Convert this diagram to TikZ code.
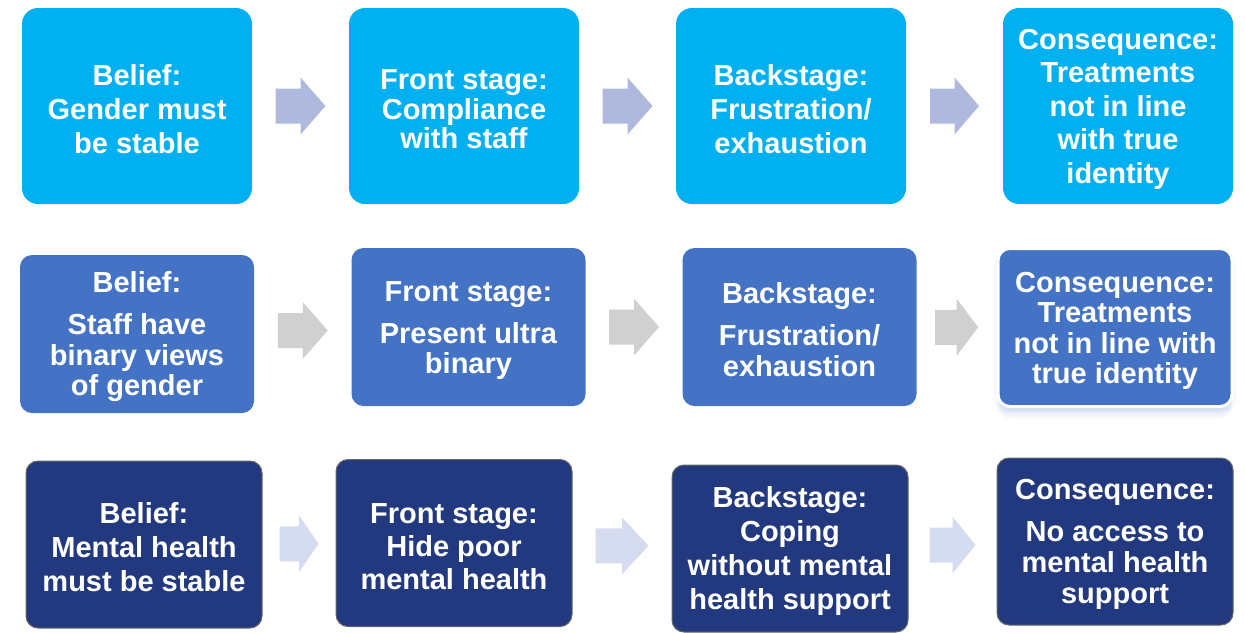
\documentclass[tikz,border=0pt]{standalone}
\usepackage{fontspec}
\setmainfont{Liberation Sans}
\usepackage{tikz}
\usetikzlibrary{calc,shadows}

\definecolor{cyanbox}{HTML}{00B0F0}
\definecolor{midbox}{HTML}{4472C4}
\definecolor{navybox}{HTML}{22397F}
\definecolor{cyanarrow}{HTML}{AFB9DD}
\definecolor{greyarrow}{HTML}{D0D0D0}
\definecolor{navyarrow}{HTML}{D6DCEF}

% taller first line, so the text sits a little lower in its box
\newcommand{\topstrut}{\rule{0pt}{13.3pt}}

% block arrow halfway between two boxes: style, from, to, length
\newcommand{\stagearrow}[4]{%
  \fill[#1] ($(#2.east)!.5!(#3.west)$) ++(-#4/2,-17.5) -- ++(#4/2,0) -- ++(0,-11)
    -- ++(#4/2,28.5) -- ++(-#4/2,28.5) -- ++(0,-11) -- ++(-#4/2,0) -- cycle;}

\begin{document}
\begin{tikzpicture}[x=0.5pt,y=-0.5pt]
\tikzstyle{stage}=[rectangle, text=white, align=center, inner sep=0pt, font=\bfseries\fontsize{14.5}{17}\selectfont]
\tikzstyle{toprow}=[stage, fill=cyanbox, rounded corners=8pt, minimum width=115pt, minimum height=98pt]
\tikzstyle{midrow}=[stage, fill=midbox, rounded corners=6pt, minimum width=117pt, minimum height=79pt, font=\bfseries\fontsize{14.5}{15.25}\selectfont]
\tikzstyle{lowrow}=[stage, fill=navybox, draw=black!60, line width=0.5pt, rounded corners=6pt, minimum width=118pt, minimum height=83.5pt]
\tikzstyle{haze}=[fill=midbox!55, opacity=.09]
\tikzstyle{glow}=[draw=white, line width=1.5pt,
  drop shadow={shadow xshift=0pt, shadow yshift=-1.5pt, haze},
  drop shadow={shadow xshift=0pt, shadow yshift=-3pt, haze},
  drop shadow={shadow xshift=0pt, shadow yshift=-4.5pt, haze},
  drop shadow={shadow xshift=0pt, shadow yshift=-6pt, haze},
  drop shadow={shadow xshift=-2pt, shadow yshift=-2.5pt, haze},
  drop shadow={shadow xshift=2pt, shadow yshift=-2.5pt, haze}]
\tikzstyle{toparrow}=[fill=cyanarrow]
\tikzstyle{midarrow}=[fill=greyarrow]
\tikzstyle{lowarrow}=[fill=navyarrow]
\useasboundingbox (0,0) rectangle (1245,632);

	% gender stability
	\node[toprow] (b11) at (137,106) {\topstrut Belief:\\Gender must\\be stable};
	\node[toprow] (b12) at (464,106) {\topstrut Front stage:\\[-2.25pt]Compliance\\[-2.25pt]with staff};
	\node[toprow] (b13) at (791,106) {\topstrut Backstage:\\Frustration/\\exhaustion};
	\node[toprow] (b14) at (1118,106) {\topstrut Consequence:\\[-0.3pt]Treatments\\[-0.3pt]not in line\\[-0.3pt]with true\\[-0.3pt]identity};

	% binary views of staff
	\node[midrow] (b21) at (137,334) {\topstrut Belief:\\[5.75pt]Staff have\\binary views\\of gender};
	\node[midrow] (b22) at (468.5,327) {\topstrut Front stage:\\[5.75pt]Present ultra\\binary};
	\node[midrow] (b23) at (799.5,327) {\topstrut Backstage:\\[5.75pt]Frustration/\\exhaustion};
	\node[midrow,glow] (b24) at (1115,327.5) {\topstrut Consequence:\\Treatments\\not in line with\\true identity};

	% mental health
	\node[lowrow] (b31) at (144,544.5) {\topstrut Belief:\\Mental health\\must be stable};
	\node[lowrow] (b32) at (454,543) {\topstrut Front stage:\\[-0.5pt]Hide poor\\[-0.5pt]mental health};
	\node[lowrow] (b33) at (790,548.5) {\topstrut Backstage:\\Coping\\without mental\\health support};
	\node[lowrow] (b34) at (1115,541.5) {\topstrut Consequence:\\[4pt]No access to\\[-1.5pt]mental health\\[-1.5pt]support};

	\stagearrow{toparrow}{b11}{b12}{50}
	\stagearrow{toparrow}{b12}{b13}{50}
	\stagearrow{toparrow}{b13}{b14}{49}
	\stagearrow{midarrow}{b21}{b22}{50}
	\stagearrow{midarrow}{b22}{b23}{50}
	\stagearrow{midarrow}{b23}{b24}{43}
	\stagearrow{lowarrow}{b31}{b32}{39}
	\stagearrow{lowarrow}{b32}{b33}{53}
	\stagearrow{lowarrow}{b33}{b34}{46}

\end{tikzpicture}
\end{document}
